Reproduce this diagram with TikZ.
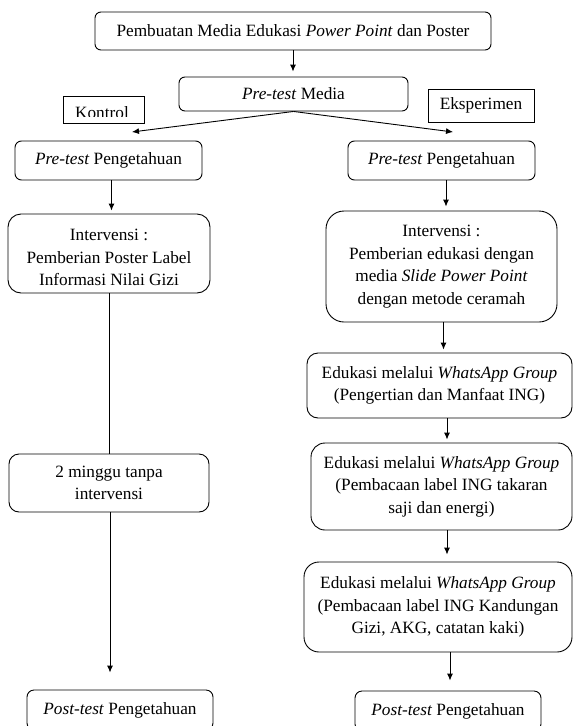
\documentclass[tikz,border=0pt]{standalone}
\usepackage{fontspec}
\setmainfont{Liberation Serif}
\usepackage{tikz}
\usetikzlibrary{arrows.meta}

\tikzset{
  flowfont/.style={font=\fontsize{17.25}{22.5}\selectfont},
  flowbox/.style={draw, line width=0.9pt, rounded corners=#1, align=center, inner sep=0pt, flowfont},
  flowbox/.default=7pt,
  tagbox/.style={draw, line width=0.9pt, inner sep=0pt, flowfont},
  flowarrow/.style={line width=0.9pt, -{Latex[length=7pt,width=6pt]}},
  flowline/.style={line width=0.9pt}
}

\begin{document}
\begin{tikzpicture}[x=1pt,y=-1pt]
    \useasboundingbox (0,0) rectangle (574,726);
    \clip (0,0) rectangle (574,726);

    % Draw the first two steps
    \node[flowbox=6pt, minimum width=396pt, minimum height=38pt] (make) at (293,31) {Pembuatan Media Edukasi \textit{Power Point} dan Poster};
    \node[flowbox=6pt, minimum width=229pt, minimum height=34pt] (media) at (293.5,94) {\textit{Pre-test} Media};

    % Add the group labels
    \node[tagbox, minimum width=81pt, minimum height=27pt] (kontrol) at (103.5,109.5) {};
    \begin{scope}
        \clip (63,96) rectangle (144,116.5);
        \node[flowfont, anchor=base, inner sep=0pt] (kontroltext) at (102,118) {Kontrol};
    \end{scope}
    \node[tagbox, minimum width=106pt, minimum height=33pt] (eksperimen) at (481,105.5) {Eksperimen};

    % Draw the control column
    \node[flowbox=6.5pt, minimum width=187pt, minimum height=39pt] (preK) at (108.5,160.5) {\textit{Pre-test} Pengetahuan};
    \node[flowbox=13pt, minimum width=202pt, minimum height=79pt,
        label={[flowfont, align=center, yshift=-4pt]center:Intervensi :\\Pemberian Poster Label\\Informasi Nilai Gizi}] (intK) at (109,253.5) {};
    \node[flowbox=10pt, minimum width=200pt, minimum height=58pt] (waitK) at (109,483) {2 minggu tanpa\\intervensi};
    \node[flowbox=7pt, minimum width=186pt, minimum height=40pt] (postK) at (120,710) {\textit{Post-test} Pengetahuan};

    % Draw the experiment column
    \node[flowbox=6.5pt, minimum width=187pt, minimum height=39pt] (preE) at (441.5,160.5) {\textit{Pre-test} Pengetahuan};
    \node[flowbox=18pt, minimum width=231pt, minimum height=111pt] (intE) at (441.5,266.5) {Intervensi :\\Pemberian edukasi dengan\\media \textit{Slide Power Point}\\dengan metode ceramah};
    \node[flowbox=11pt, minimum width=265pt, minimum height=65pt] (waA) at (439.5,385.5) {Edukasi melalui \textit{WhatsApp Group}\\(Pengertian dan Manfaat ING)};
    \node[flowbox=14pt, minimum width=261pt, minimum height=87pt] (waB) at (441.5,486.5) {Edukasi melalui \textit{WhatsApp Group}\\(Pembacaan label ING takaran\\saji dan energi)};
    \node[flowbox=15pt, minimum width=268pt, minimum height=90pt] (waC) at (438,607) {Edukasi melalui \textit{WhatsApp Group}\\(Pembacaan label ING Kandungan\\Gizi, AKG, catatan kaki)};
    \node[flowbox=7pt, minimum width=186pt, minimum height=40pt] (postE) at (448,711) {\textit{Post-test} Pengetahuan};

    % Connect the steps
    \coordinate (kontrolTip) at (132,132);
    \coordinate (eksperimenTip) at (453,132);
    \draw[flowarrow, shorten >=5pt] (make.south) -- (make.south |- media.north);
    \draw[flowarrow] (media.south) -- (kontrolTip);
    \draw[flowarrow] (media.south) -- (eksperimenTip);

    \draw[flowarrow, shorten >=3pt] ([xshift=3pt]preK.south) -- ([xshift=3pt]preK.south |- intK.north);
    \draw[flowline] (intK.south) -- (intK.south |- waitK.north);
    \draw[flowarrow, shorten >=17pt] ([xshift=1pt]waitK.south) -- ([xshift=1pt]waitK.south |- postK.north);

    \draw[flowarrow, shorten >=4pt] ([xshift=4.5pt]preE.south) -- ([xshift=4.5pt]preE.south |- intE.north);
    \draw[flowarrow, shorten >=3pt] ([xshift=2pt]intE.south) -- ([xshift=2pt]intE.south |- waA.north);
    \draw[flowarrow, shorten >=3pt] ([xshift=7.5pt]waA.south) -- ([xshift=7.5pt]waA.south |- waB.north);
    \draw[flowarrow, shorten >=7pt] ([xshift=5.5pt]waB.south) -- ([xshift=5.5pt]waB.south |- waC.north);
    \draw[flowarrow, shorten >=10pt] ([xshift=12pt]waC.south) -- ([xshift=12pt]waC.south |- postE.north);
\end{tikzpicture}
\end{document}
